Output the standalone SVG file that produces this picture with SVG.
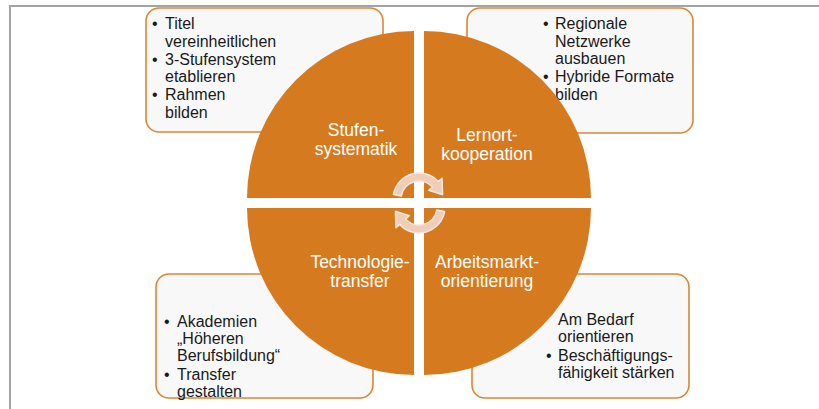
<svg xmlns="http://www.w3.org/2000/svg" width="819" height="409" viewBox="0 0 819 409">
<style>
.box{fill:#F8F8F8;stroke:#DA8733;stroke-width:1.6}
.quad{fill:#D67A1F}
.t{font-family:"Liberation Sans",Arial,sans-serif;font-size:16px;fill:#1A1A1A}
.lbl{font-family:"Liberation Sans",Arial,sans-serif;font-size:17.5px;fill:#FFFFFF;text-anchor:middle}
.arr{fill:#EFCDB9;stroke:#F8E9E0;stroke-width:1.5;stroke-linejoin:round}
.frame{stroke:#A3A3A3;stroke-width:2;fill:none}
</style>
<rect x="0" y="0" width="819" height="409" fill="#FFFFFF"/>
<path class="frame" d="M10,409 L10,6 L819,6"/>

<g id="box-tl">
<rect class="box" x="146" y="8" width="237" height="124" rx="13"/>
<text class="t"><tspan x="152" y="29">•</tspan><tspan x="165" y="29">Titel</tspan><tspan x="165" y="46.5">vereinheitlichen</tspan><tspan x="152" y="64.5">•</tspan><tspan x="165" y="64.5">3-Stufensystem</tspan><tspan x="165" y="82">etablieren</tspan><tspan x="152" y="100">•</tspan><tspan x="165" y="100">Rahmen</tspan><tspan x="165" y="117.5">bilden</tspan></text>
</g>
<g id="box-tr">
<rect class="box" x="467" y="8" width="226" height="125" rx="13"/>
<text class="t"><tspan x="543" y="29">•</tspan><tspan x="555" y="29">Regionale</tspan><tspan x="555" y="46.5">Netzwerke</tspan><tspan x="555" y="64">ausbauen</tspan><tspan x="543" y="82">•</tspan><tspan x="555" y="82">Hybride Formate</tspan><tspan x="555" y="99.5">bilden</tspan></text>
</g>
<g id="box-bl">
<rect class="box" x="156" y="274" width="217" height="124" rx="13"/>
<text class="t"><tspan x="164" y="327">•</tspan><tspan x="177" y="327">Akademien</tspan><tspan x="177" y="344">„Höheren</tspan><tspan x="177" y="361">Berufsbildung“</tspan><tspan x="164" y="380">•</tspan><tspan x="177" y="380">Transfer</tspan><tspan x="177" y="397">gestalten</tspan></text>
</g>
<g id="box-br">
<rect class="box" x="472" y="274" width="217" height="124" rx="13"/>
<text class="t"><tspan x="558" y="325">Am Bedarf</tspan><tspan x="558" y="342">orientieren</tspan><tspan x="546" y="361">•</tspan><tspan x="558" y="361">Beschäftigungs-</tspan><tspan x="558" y="378">fähigkeit stärken</tspan></text>
</g>

<g id="q-stufensystematik">
<path class="quad" d="M414,198 L247,198 A167,167 0 0 1 414,31 Z"/>
<text class="lbl"><tspan x="356" y="136">Stufen-</tspan><tspan x="356" y="155">systematik</tspan></text>
</g>
<g id="q-lernortkooperation">
<path class="quad" d="M424,198 L424,31 A167,167 0 0 1 591,198 Z"/>
<text class="lbl"><tspan x="487" y="141">Lernort-</tspan><tspan x="487" y="160">kooperation</tspan></text>
</g>
<g id="q-technologietransfer">
<path class="quad" d="M414,208 L414,375 A167,167 0 0 1 247,208 Z"/>
<text class="lbl"><tspan x="360" y="268">Technologie-</tspan><tspan x="360" y="287">transfer</tspan></text>
</g>
<g id="q-arbeitsmarktorientierung">
<path class="quad" d="M424,208 L591,208 A167,167 0 0 1 424,375 Z"/>
<text class="lbl"><tspan x="487" y="268">Arbeitsmarkt-</tspan><tspan x="487" y="287">orientierung</tspan></text>
</g>

<g id="connectors">
<path class="arr" d="M393.4,194.5 A26,26 0 0 1 438.3,181.6 L442,178.3 L442.6,194.8 L428.7,190.3 L432.4,187 A18,18 0 0 0 401.3,195.9 Z"/>
<path class="arr" d="M444.6,211.5 A26,26 0 0 1 399.7,224.4 L396,227.7 L395.4,211.2 L409.3,215.7 L405.6,219 A18,18 0 0 0 436.7,210.1 Z"/>
</g>
</svg>
